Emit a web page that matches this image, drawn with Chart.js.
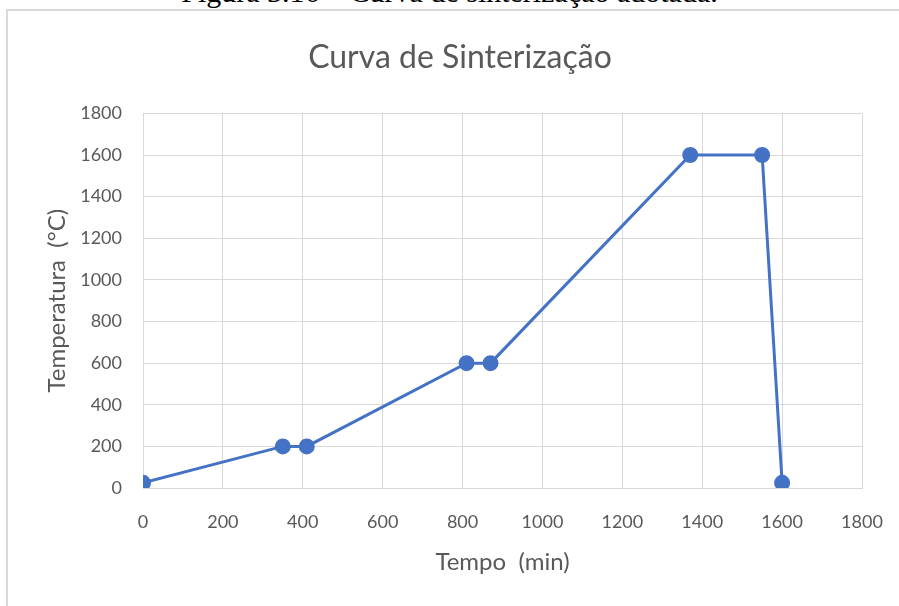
<!DOCTYPE html>
<html>
<head>
<meta charset="utf-8">
<script src="https://cdn.jsdelivr.net/npm/chart.js@4"></script>
<style>
  html, body { margin: 0; padding: 0; background: #fff; }
  #wrap { position: relative; width: 899px; height: 606px; overflow: hidden; }
  #caption {
    position: absolute; left: 0; width: 899px; top: -25px;
    text-align: center; font-family: "Liberation Serif", "DejaVu Serif", serif;
    font-size: 30px; color: #000; white-space: nowrap;
  }
  #frame {
    position: absolute; left: 6px; top: 9px; width: 910px; height: 620px;
    border: 2px solid #d9d9d9; box-sizing: border-box;
  }
  #chart { position: absolute; left: 0; top: 0; }
</style>
</head>
<body>
<div id="wrap">
  <div id="caption">Figura 3.16 – Curva de sinterização adotada.</div>
  <div id="frame"></div>
  <canvas id="chart" width="899" height="606"></canvas>
</div>
<script>
// Dados da curva
const tempoMin = [0, 350, 410, 810, 870, 1370, 1550, 1600];
const temperaturaC = [25, 200, 200, 600, 600, 1600, 1600, 25];
const xTicks = [0, 200, 400, 600, 800, 1000, 1200, 1400, 1600, 1800];
const yTicks = [0, 200, 400, 600, 800, 1000, 1200, 1400, 1600, 1800];

const blue = "#4472C4";
const gray = "#595959";
const gridColor = "#d9d9d9";
const fontFamily = "Lato, 'Open Sans', sans-serif";

const ctx = document.getElementById("chart");
new Chart(ctx, {
  type: "line",
  data: {
    datasets: [
      {
        label: "Temperatura",
        data: tempoMin.map((t, i) => ({ x: t, y: temperaturaC[i] })),
        borderColor: blue,
        backgroundColor: blue,
        borderWidth: 3,
        pointRadius: 6.5,
        pointHoverRadius: 6.5,
        pointBackgroundColor: blue,
        pointBorderColor: blue,
        tension: 0,
        fill: false,
      },
    ],
  },
  options: {
    responsive: false,
    animation: false,
    layout: { padding: { left: 21, right: 0, top: 0, bottom: 0 } },
    plugins: {
      legend: { display: false },
      tooltip: { enabled: false },
      title: {
        display: true,
        text: "Curva de Sinterização",
        color: gray,
        font: { family: fontFamily, size: 32, weight: "normal", lineHeight: 1.2 },
        padding: { top: 38, bottom: 37 },
      },
    },
    scales: {
      x: {
        type: "linear",
        min: 0,
        max: 1800,
        afterBuildTicks: (scale) => {
          scale.ticks = xTicks.map((v) => ({ value: v }));
        },
        afterFit: (scale) => {
          scale.height = 118;
        },
        // marcas invisíveis para afastar os rótulos do eixo
        grid: { color: gridColor, lineWidth: 1, drawTicks: true, tickLength: 20, tickColor: "rgba(0,0,0,0)" },
        border: { color: gridColor, width: 1 },
        ticks: {
          color: gray,
          padding: 3,
          maxRotation: 0,
          font: { family: fontFamily, size: 18 },
          callback: (v) => String(v),
        },
        title: {
          display: true,
          text: "Tempo  (min)",
          color: gray,
          font: { family: fontFamily, size: 24, lineHeight: 1.2 },
          padding: { top: 0, bottom: 29 },
        },
      },
      y: {
        type: "linear",
        min: 0,
        max: 1800,
        afterBuildTicks: (scale) => {
          scale.ticks = yTicks.map((v) => ({ value: v }));
        },
        afterFit: (scale) => {
          scale.width = 122;
        },
        grid: { color: gridColor, lineWidth: 1, drawTicks: false },
        border: { color: gridColor, width: 1 },
        ticks: {
          color: gray,
          padding: 21,
          font: { family: fontFamily, size: 18 },
          callback: (v) => String(v),
        },
        title: {
          display: true,
          text: "Temperatura  (°C)",
          color: gray,
          font: { family: fontFamily, size: 24, lineHeight: 1.2 },
          padding: { top: 22, bottom: 0 },
        },
      },
      // eixo vazio à direita só para reservar espaço
      y2: {
        type: "linear",
        position: "right",
        min: 0,
        max: 1800,
        afterFit: (scale) => {
          scale.width = 37;
        },
        grid: { display: false, drawTicks: false },
        border: { display: false },
        ticks: { display: false },
      },
    },
  },
});
</script>
</body>
</html>
